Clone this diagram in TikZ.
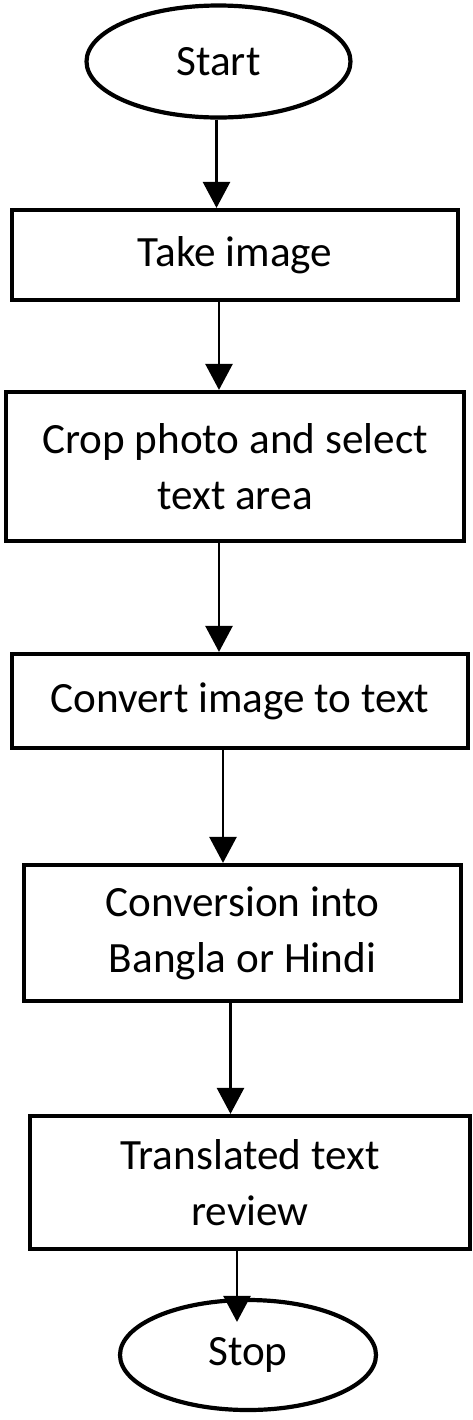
\documentclass[tikz,border=0pt]{standalone}
\usepackage{fontspec}
\setmainfont{Carlito}
\usetikzlibrary{shapes, arrows.meta}

\begin{document}
\begin{tikzpicture}[
   x=0.5pt, y=-0.5pt,
   termell/.style={ellipse, draw=black, line width=2.1, inner sep=0,
                   font=\fontsize{21.6}{28}\selectfont},
   stepbox/.style={rectangle, draw=black, line width=2.1, inner sep=0,
                   align=center, font=\fontsize{21.6}{28}\selectfont},
   flow/.style={-{Triangle[length=13pt, width=13.5pt]}, line width=1.3}
  ]

  % Page frame
  \useasboundingbox (0, 0) rectangle (472, 1420);

  \node (start) at (218.5, 61.5) [termell, minimum width=132pt, minimum height=56pt] {Start};

  \node (take) at (235, 255) [stepbox, minimum width=223pt, minimum height=45pt] {Take image};
  \node (crop) at (235, 466.5) [stepbox, minimum width=229pt, minimum height=74.5pt]
        {Crop photo and select\\text area};
  \node (conv) at (240, 701) [stepbox, minimum width=228pt, minimum height=47pt]
        {Convert image to text};
  \node (lang) at (242.5, 933) [stepbox, minimum width=218.5pt, minimum height=68pt]
        {Conversion into\\Bangla or Hindi};
  \node (review) at (250, 1182.5) [stepbox, minimum width=220pt, minimum height=66.5pt]
        {Translated text\\review};

  \node (stop) at (248, 1355) [termell, minimum width=128pt, minimum height=55pt] {Stop};

  \foreach \B/\E/\s in {start/take/-1, take/crop/-8, crop/conv/-8,
                        conv/lang/-8.5, lang/review/-6} {
    \draw[flow] ([xshift=\s pt]\B.south) -- ([xshift=\s pt]\B.south |- \E.north);
  }
  \draw[flow, shorten >=-12pt] ([xshift=-6.5pt]review.south) -- ([xshift=-6.5pt]review.south |- stop.north);

\end{tikzpicture}
\end{document}
